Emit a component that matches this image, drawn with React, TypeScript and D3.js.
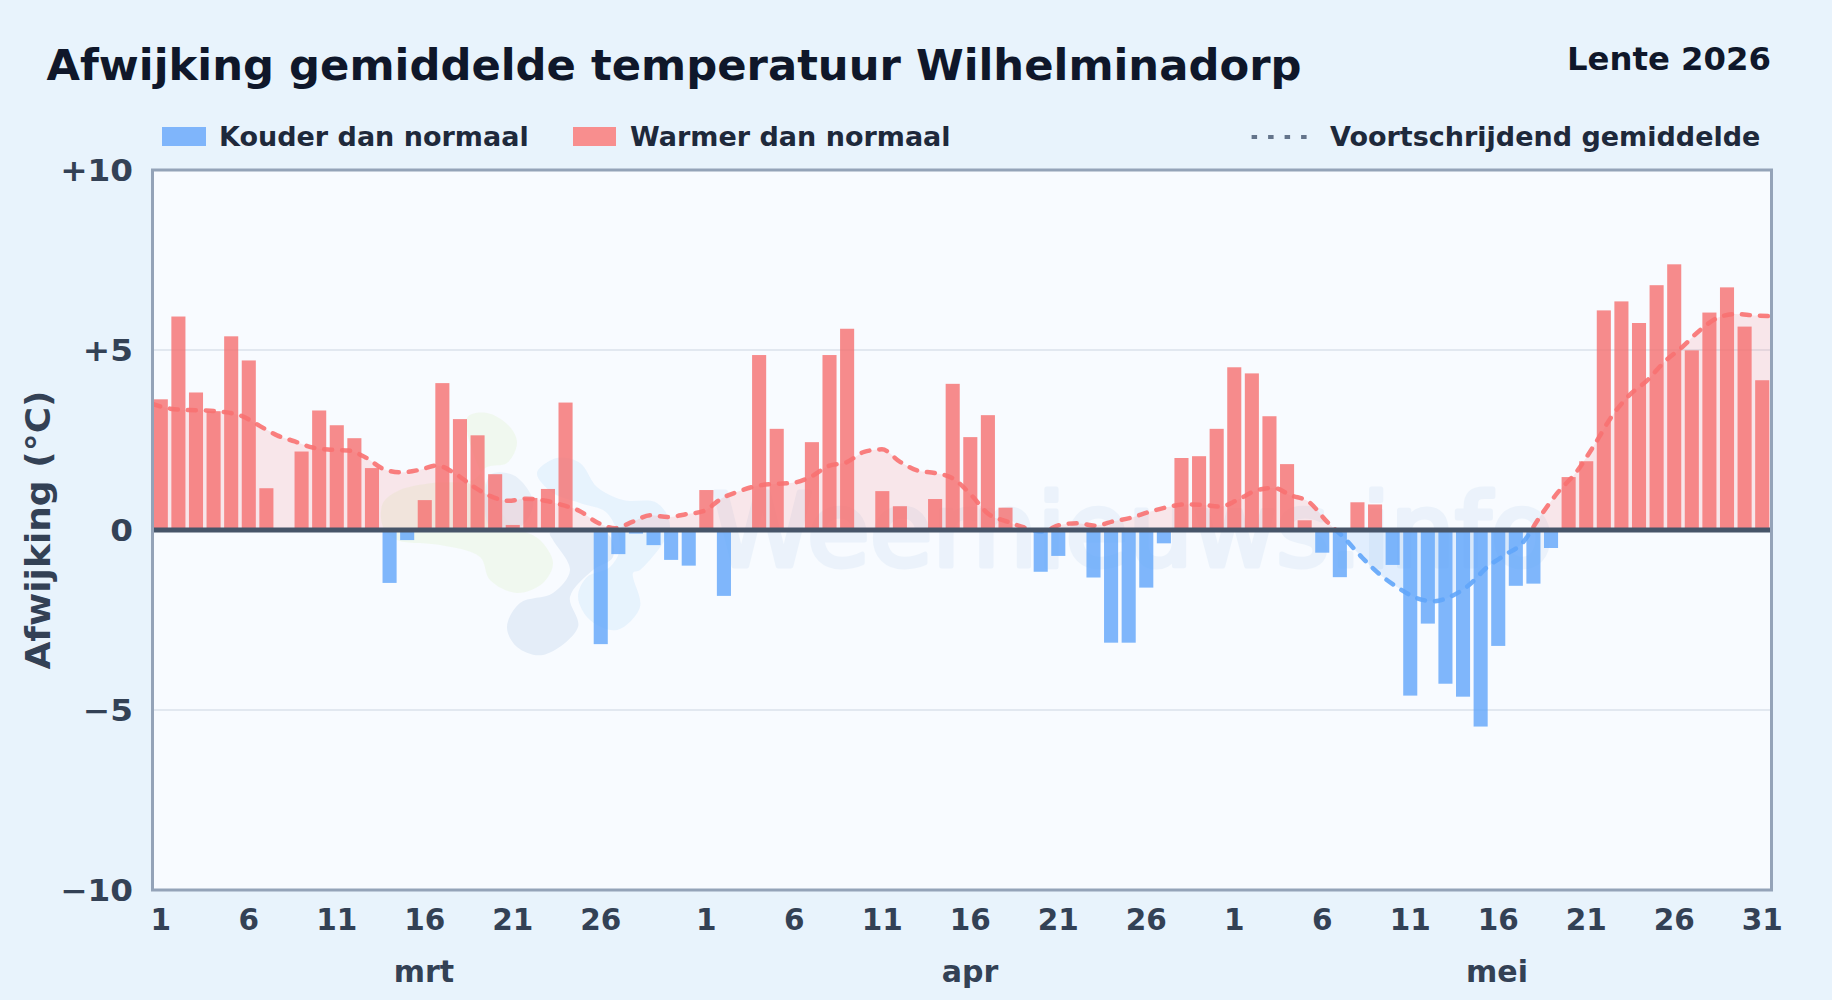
import React from "react";
import * as d3 from "d3";

const W = 1832, H = 1000;
const M = { l: 152.5, r: 1771.5, t: 170, b: 890 };

const marchValues = [3.63,5.93,3.82,3.3,5.38,4.71,1.16,0,2.18,3.32,2.91,2.55,1.72,-1.47,-0.28,0.83,4.08,3.08,2.63,1.55,0.14,0.89,1.14,3.54,0,-3.17,-0.67,-0.1,-0.42,-0.83,-0.99];
const aprilValues = [1.11,-1.83,0,4.86,2.81,0,2.44,4.86,5.59,0,1.08,0.66,0,0.86,4.06,2.58,3.19,0.62,-0.05,-1.16,-0.72,0,-1.32,-3.13,-3.13,-1.6,-0.37,2.0,2.05,2.81];
const mayValues = [4.52,4.35,3.16,1.83,0.27,-0.63,-1.31,0.77,0.71,-0.97,-4.6,-2.6,-4.27,-4.63,-5.46,-3.22,-1.55,-1.49,-0.5,1.47,1.91,6.1,6.35,5.75,6.8,7.38,4.99,6.04,6.74,5.65,4.16];
const values = [...marchValues, ...aprilValues, ...mayValues];
const movingAverage = [3.5,3.37,3.33,3.32,3.28,3.17,2.9,2.63,2.46,2.29,2.23,2.21,2.01,1.69,1.6,1.67,1.79,1.57,1.22,0.94,0.81,0.87,0.82,0.7,0.53,0.21,0.05,0.23,0.41,0.36,0.44,0.53,0.88,1.08,1.23,1.28,1.31,1.48,1.78,1.88,2.17,2.24,1.9,1.65,1.58,1.43,0.98,0.44,0.24,0.07,-0.04,0.14,0.19,0.12,0.24,0.34,0.5,0.63,0.71,0.7,0.65,0.84,1.09,1.17,0.96,0.78,0.24,-0.23,-0.77,-1.24,-1.6,-1.88,-1.98,-1.84,-1.53,-1.04,-0.7,-0.36,0.38,1.05,1.59,2.33,3.14,3.74,4.15,4.68,5.09,5.56,5.9,6.0,5.96,5.94];
const yTicks = [10,5,0,-5,-10];
const dayTicks = [1,6,11,16,21,26,31];
const months = [{ name: "mrt", days: 31, labelX: 424 },{ name: "apr", days: 30, labelX: 970 },{ name: "mei", days: 31, labelX: 1497 }];

const blobGreen = [[127,18],[147,13],[170,27],[177,43],[167,63],[147,67],[133,80],[93,83],[60,90],[43,103],[43,127],[57,140],[100,145],[140,157],[150,180],[177,193],[203,183],[213,163],[200,140],[167,120]];
const blobLight = [[197,73],[217,58],[240,63],[257,87],[283,100],[317,103],[330,127],[300,170],[293,173],[300,207],[277,230],[250,220],[238,197],[247,177],[270,167],[280,147],[267,113],[240,103],[213,93]];
const blobDark = [[167,227],[180,203],[213,193],[230,170],[213,140],[210,133],[267,133],[273,157],[253,170],[230,197],[238,227],[203,255],[177,247]];
const blobUpper = [[150,75],[173,75],[190,93],[193,107],[180,127],[150,127]];

const blobLine = d3.line().curve(d3.curveCatmullRomClosed.alpha(0.5));

export default function App() {
  const x = d3.scaleBand<number>().domain(d3.range(values.length)).range([M.l - 0.5, M.r - 0.5]).paddingInner(0.2).paddingOuter(0.1);
  const xLine = d3.scaleLinear().domain([0, values.length - 1]).range([M.l, M.r]);
  const y = d3.scaleLinear().domain([-10, 10]).range([M.b, M.t]);
  const pts = movingAverage.map((v, i) => [i, v] as [number, number]);
  const line = d3.line<[number, number]>().x(d => xLine(d[0])).y(d => y(d[1])).curve(d3.curveMonotoneX);
  const area = d3.area<[number, number]>().x(d => xLine(d[0])).y0(y(0)).y1(d => y(d[1])).curve(d3.curveMonotoneX);
  const lineD = line(pts) || "";
  const areaD = area(pts) || "";
  const txt = "DejaVu Sans";
  let offset = 0;
  const tickLabels: { t: string; cx: number }[] = [];
  months.forEach(m => {
    dayTicks.filter(d => d <= m.days && (d < 31 || m.name === "mei")).forEach(d => {
      tickLabels.push({ t: String(d), cx: (x(offset + d - 1) as number) + x.bandwidth() / 2 });
    });
    offset += m.days;
  });
  return (
    <svg width={W} height={H} viewBox={`0 0 ${W} ${H}`} style={{ position: "absolute", left: 0, top: 0, display: "block" }} fontFamily={txt}>
      <defs>
        <clipPath id="pos"><rect x={M.l} y={M.t} width={M.r - M.l} height={y(0) - M.t} /></clipPath>
        <clipPath id="neg"><rect x={M.l} y={y(0)} width={M.r - M.l} height={M.b - y(0)} /></clipPath>
      </defs>
      <rect width={W} height={H} fill="#e8f3fc" />
      <text x={46.5} y={79.5} fontSize={43} fontWeight={700} fill="#0f172a" textLength={1255} lengthAdjust="spacingAndGlyphs">Afwijking gemiddelde temperatuur Wilhelminadorp</text>
      <text x={1567} y={70} fontSize={31.5} fontWeight={700} fill="#0f172a" textLength={204} lengthAdjust="spacingAndGlyphs">Lente 2026</text>

      <rect x={162} y={127} width={44} height={19} fill="#7fb5fb" />
      <text x={219} y={146} fontSize={27} fontWeight={700} fill="#1e293b">Kouder dan normaal</text>
      <rect x={573} y={127} width={43} height={19} fill="#f88e8e" />
      <text x={630} y={146} fontSize={27} fontWeight={700} fill="#1e293b">Warmer dan normaal</text>
      <line x1={1251.6} x2={1308} y1={137} y2={137} stroke="#64748b" strokeWidth={4} strokeDasharray="5.5 11" />
      <text x={1330} y={146} fontSize={27} fontWeight={700} fill="#1e293b">Voortschrijdend gemiddelde</text>

      <rect x={M.l} y={M.t} width={M.r - M.l} height={M.b - M.t} fill="#f8fbff" />
      <g transform="translate(340,400)">
        <path d={blobLine(blobGreen as any) || ""} fill="#eef7ea" opacity={0.75} />
        <path d={blobLine(blobLight as any) || ""} fill="#e4f1fd" opacity={0.85} />
        <path d={blobLine(blobDark as any) || ""} fill="#e4edf8" />
        <path d={blobLine(blobUpper as any) || ""} fill="#e4edf8" opacity={0.8} />
      </g>
      <g opacity={0.055}>
        <text x={712} y={566} fontSize={102} fontWeight={400} fill="#1d6fc4" stroke="#1d6fc4" strokeWidth={5} strokeLinejoin="round">Weernieuws.info</text>
      </g>

      {yTicks.filter(t => Math.abs(t) === 5).map(t => (
        <line key={t} x1={M.l} x2={M.r} y1={y(t)} y2={y(t)} stroke="#e2e8f0" strokeWidth={2} />
      ))}
      <path d={areaD} fill="#f87171" fillOpacity={0.15} clipPath="url(#pos)" />
      <path d={areaD} fill="#60a5fa" fillOpacity={0.15} clipPath="url(#neg)" />
      {values.map((v, i) => v === 0 ? null : (
        <rect key={i} x={x(i)} width={x.bandwidth()} y={y(Math.max(v, 0))} height={Math.abs(y(v) - y(0))} fill={v > 0 ? "#f56f6f" : "#60a5fa"} fillOpacity={0.8} />
      ))}
      <path d={lineD} fill="none" stroke="#f87171" strokeOpacity={0.9} strokeWidth={4.5} strokeDasharray="8 10" strokeLinecap="round" clipPath="url(#pos)" />
      <path d={lineD} fill="none" stroke="#60a5fa" strokeOpacity={0.9} strokeWidth={4.5} strokeDasharray="8 10" strokeLinecap="round" clipPath="url(#neg)" />
      <line x1={M.l} x2={M.r} y1={y(0)} y2={y(0)} stroke="#475569" strokeWidth={5} />
      <rect x={M.l} y={M.t} width={M.r - M.l} height={M.b - M.t} fill="none" stroke="#94a3b8" strokeWidth={3} />

      {yTicks.map(t => (
        <text key={t} transform={`translate(133,${y(t) + 11}) scale(1.09,1)`} fontSize={30} fontWeight={700} fill="#334155" textAnchor="end">{t > 0 ? `+${t}` : t < 0 ? `\u2212${-t}` : "0"}</text>
      ))}
      {tickLabels.map((l, i) => (
        <text key={i} x={l.cx} y={930} fontSize={29.5} fontWeight={700} fill="#334155" textAnchor="middle">{l.t}</text>
      ))}
      {months.map(m => (
        <text key={m.name} x={m.labelX} y={982} fontSize={30} fontWeight={700} fill="#334155" textAnchor="middle">{m.name}</text>
      ))}
      <text transform="translate(50,530) rotate(-90)" fontSize={34.5} fontWeight={700} fill="#334155" textAnchor="middle" textLength={279} lengthAdjust="spacingAndGlyphs">Afwijking (°C)</text>
    </svg>
  );
}
